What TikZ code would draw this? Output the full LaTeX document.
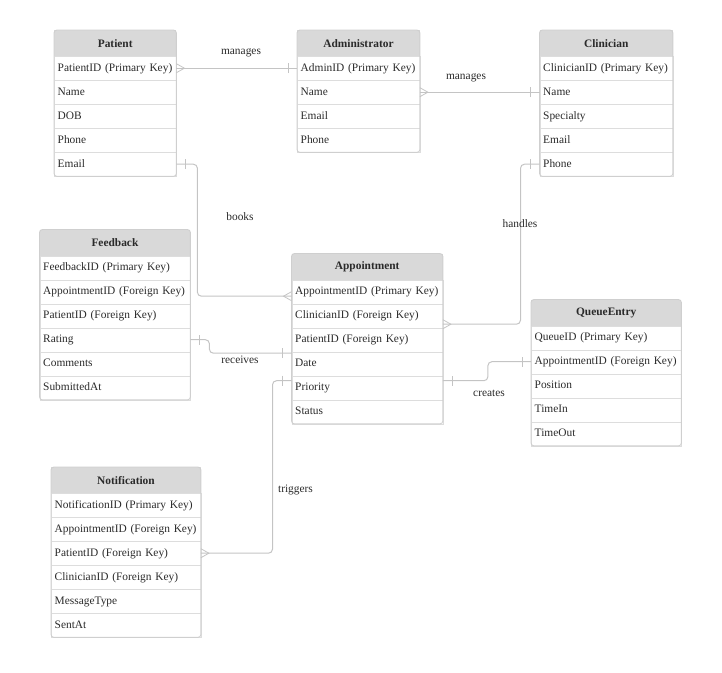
\documentclass[tikz,border=0pt]{standalone}
\usepackage{fontspec}
\setmainfont{Liberation Serif}
\usepackage{tikz}
\usepackage{xcolor}
\usetikzlibrary{decorations.markings}

\definecolor{headgray}{HTML}{D9D9D9}
\definecolor{framegray}{HTML}{CFCFCF}
\definecolor{sepgray}{HTML}{DDDDDD}
\definecolor{linkgray}{HTML}{C4C4C4}
\definecolor{txtgray}{HTML}{2A2A2A}

\tikzset{
  head/.style={anchor=north west, minimum width=#1, minimum height=26pt, inner sep=0pt, fill=headgray, font=\fontsize{11.4}{14}\selectfont\bfseries},
  row/.style={anchor=north west, draw=sepgray, minimum height=24pt, inner xsep=3.5pt, inner ysep=0pt, text width=#1, align=left},
  frame/.style={draw=framegray, line width=0.9pt, rounded corners=3pt},
  rel/.style={draw=linkgray, line width=1pt, rounded corners=4pt},
  one start/.style={postaction={decorate, decoration={markings, mark=at position 9pt with {\draw[linkgray, line width=0.8pt, sharp corners] (0,-5pt) -- (0,5pt);}}}},
  one end/.style={postaction={decorate, decoration={markings, mark=at position -9pt with {\draw[linkgray, line width=0.8pt, sharp corners] (0,-5pt) -- (0,5pt);}}}},
  many start/.style={postaction={decorate, decoration={markings, mark=at position 8pt with {\draw[linkgray, line width=0.8pt, sharp corners] (-8pt,-4.5pt) -- (0,0) -- (-8pt,4.5pt);}}}},
  many end/.style={postaction={decorate, decoration={markings, mark=at position -8pt with {\draw[linkgray, line width=0.8pt, sharp corners] (8pt,-4.5pt) -- (0,0) -- (8pt,4.5pt);}}}}
}

\begin{document}
\begin{tikzpicture}[x=1pt, y=-1pt, font=\fontsize{11.4}{14}\selectfont, text=txtgray]
\useasboundingbox (0,0) rectangle (722,672);

% tables
\node[head=122pt] (pat) at (54,30) {Patient};
\foreach \t [count=\i] in {PatientID (Primary Key), Name, DOB, Phone, Email}
  \node[row=115pt] (pat\i) at (54,{56+24*(\i-1)}) {\mbox{\strut\t}};
\draw[frame] (pat.north west) rectangle (pat5.south east);

\node[head=122.5pt] (adm) at (297,30) {Administrator};
\foreach \t [count=\i] in {AdminID (Primary Key), Name, Email, Phone}
  \node[row=115.5pt] (adm\i) at (297,{56+24*(\i-1)}) {\mbox{\strut\t}};
\draw[frame] (adm.north west) rectangle (adm4.south east);

\node[head=133pt] (cli) at (539.5,30) {Clinician};
\foreach \t [count=\i] in {ClinicianID (Primary Key), Name, Specialty, Email, Phone}
  \node[row=126pt] (cli\i) at (539.5,{56+24*(\i-1)}) {\mbox{\strut\t}};
\draw[frame] (cli.north west) rectangle (cli5.south east);

\node[head=150.5pt] (fb) at (39.5,229.5) {Feedback};
\foreach \t [count=\i] in {FeedbackID (Primary Key), AppointmentID (Foreign Key), PatientID (Foreign Key), Rating, Comments, SubmittedAt}
  \node[row=143.5pt] (fb\i) at (39.5,{255.5+24*(\i-1)}) {\mbox{\strut\t}};
\draw[frame] (fb.north west) rectangle (fb6.south east);

\node[head=151pt] (app) at (291.5,253.5) {Appointment};
\foreach \t [count=\i] in {AppointmentID (Primary Key), ClinicianID (Foreign Key), PatientID (Foreign Key), Date, Priority, Status}
  \node[row=144pt] (app\i) at (291.5,{279.5+24*(\i-1)}) {\mbox{\strut\t}};
\draw[frame] (app.north west) rectangle (app6.south east);

\node[head=150pt] (qe) at (531,299.5) {QueueEntry};
\foreach \t [count=\i] in {QueueID (Primary Key), AppointmentID (Foreign Key), Position, TimeIn, TimeOut}
  \node[row=143pt] (qe\i) at (531,{325.5+24*(\i-1)}) {\mbox{\strut\t}};
\draw[frame] (qe.north west) rectangle (qe5.south east);

\node[head=149.5pt] (notif) at (51,467) {Notification};
\foreach \t [count=\i] in {NotificationID (Primary Key), AppointmentID (Foreign Key), PatientID (Foreign Key), ClinicianID (Foreign Key), MessageType, SentAt}
  \node[row=142.5pt] (notif\i) at (51,{493+24*(\i-1)}) {\mbox{\strut\t}};
\draw[frame] (notif.north west) rectangle (notif6.south east);

% relations
\draw[rel, line width=1.4pt, many start, one end] (pat1.east) -- (adm1.west);
\draw[rel, line width=1.4pt, many start, one end] (adm2.east) -- (cli2.west);
\draw[rel, one start, many end] (pat5.east) -- ++(21pt,0) |- ([yshift=-4.5pt]app1.west);
\draw[rel, one start, many end] (cli5.west) -- ++(-19pt,0) |- ([yshift=-8.5pt]app2.east);
\draw[rel, one start, one end] (fb4.east) -- ++(19pt,0) |- ([yshift=10.5pt]app4.west);
\draw[rel, one start, one end] ([yshift=7pt]app5.east) -- ++(45pt,0) |- (qe2.west);
\draw[rel, one start, many end] ([yshift=7pt]app5.west) -- ++(-19pt,0) |- (notif3.east);

% labels
\node (manages1) at (241,53) {manages};
\node (manages2) at (466,78) {manages};
\node (books) at (240,217) {books};
\node (handles) at (520,224) {handles};
\node (receives) at (240,360) {receives};
\node (creates) at (489,393) {creates};
\node (triggers) at (295.5,490) {triggers};
\end{tikzpicture}
\end{document}
